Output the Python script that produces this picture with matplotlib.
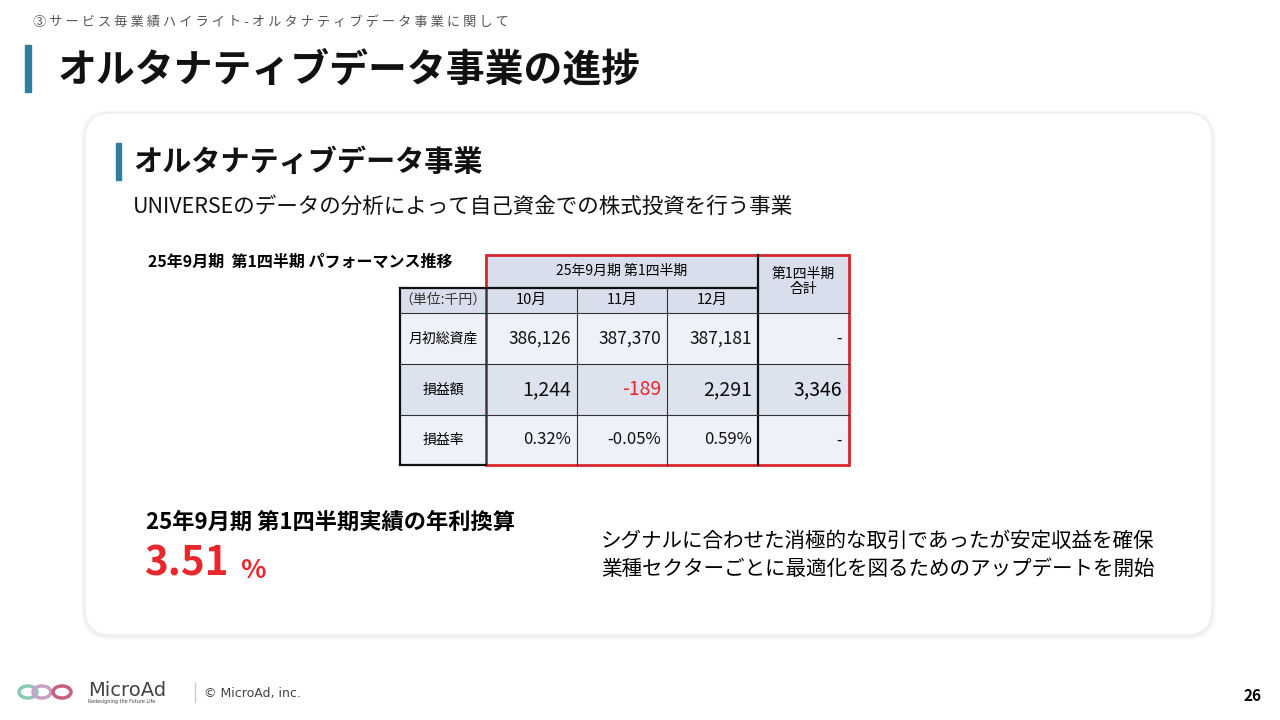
import matplotlib
matplotlib.use("Agg")
import matplotlib.pyplot as plt
from matplotlib.patches import Rectangle, FancyBboxPatch

plt.rcParams["font.family"] = "Noto Sans CJK JP"

months = ["10月", "11月", "12月"]
row_labels = ["月初総資産", "損益額", "損益率"]
assets = ["386,126", "387,370", "387,181"]
profit = ["1,244", "-189", "2,291"]
rates = ["0.32%", "-0.05%", "0.59%"]
totals = ["-", "3,346", "-"]
annual_rate = "3.51"

fig = plt.figure(figsize=(12.8, 7.2), dpi=100)
ax = fig.add_axes([0, 0, 1, 1])
ax.set_xlim(0, 1280); ax.set_ylim(720, 0); ax.axis("off")

# header
ax.text(33, 22, " ".join("③サービス毎業績ハイライト-オルタナティブデータ事業に関して"),
        fontsize=9.5, color="#555", va="center")
ax.add_patch(Rectangle((25, 45), 6, 47, color="#2e7f9e"))
ax.text(58, 70, "オルタナティブデータ事業の進捗", fontsize=28, weight="bold", va="center", color="#111")

# card with shadow
for i in range(4):
    d = 4 - i
    ax.add_patch(FancyBboxPatch((85 - d, 113 - d + 1), 1127 + 2 * d, 522 + 2 * d,
                 boxstyle="round,pad=0,rounding_size=28", fc="#000", alpha=0.015, ec="none"))
ax.add_patch(FancyBboxPatch((85, 113), 1127, 522, boxstyle="round,pad=0,rounding_size=26", fc="white", ec="#ececec", lw=0.8))

ax.add_patch(Rectangle((116, 143), 5, 37, color="#2e7f9e"))
ax.text(133, 162, "オルタナティブデータ事業", fontsize=21, weight="bold", va="center", color="#111")
ax.text(133, 207, "UNIVERSEのデータの分析によって自己資金での株式投資を行う事業", fontsize=15.5, va="center", color="#111")
ax.text(148, 262, "25年9月期  第1四半期 パフォーマンス推移", fontsize=11.5, weight="bold", va="center")

# table
xs = [400, 486, 577, 667, 758, 849]
ys = [255, 288, 313, 364, 415, 465]
hdr = "#d8deeb"; body = "#eef1f8"; dark = "#dce2ee"
ax.add_patch(Rectangle((486, 255), 363, 58, fc=hdr, ec="none"))
ax.add_patch(Rectangle((400, 288), 86, 25, fc=hdr, ec="none"))
for r in range(3):
    fc = dark if r == 1 else body
    ax.add_patch(Rectangle((400, ys[r + 2]), 449, ys[r + 3] - ys[r + 2], fc=fc, ec="none"))
lc = "#333"
for x in xs[1:4]:
    ax.plot([x, x], [288, 465], color=lc, lw=0.8)
ax.plot([758, 758], [255, 465], color="#111", lw=1.6)
ax.plot([400, 758], [288, 288], color="#111", lw=1.6)
for y in ys[2:5]:
    ax.plot([400, 849], [y, y], color=lc, lw=0.8)
ax.plot([400, 400], [288, 465], color="#111", lw=1.6)
ax.plot([400, 486], [465, 465], color="#111", lw=1.6)
ax.add_patch(Rectangle((486, 255), 363, 210, fc="none", ec="#d9262c", lw=2))

ax.text(622, 271, "25年9月期 第1四半期", fontsize=10, ha="center", va="center")
ax.text(803, 281, "第1四半期\n合計", fontsize=10, ha="center", va="center", linespacing=1.1)
ax.text(443, 300, "（単位:千円）", fontsize=10, ha="center", va="center", color="#333")
for i, m in enumerate(months):
    ax.text((xs[i + 1] + xs[i + 2]) / 2, 300, m, fontsize=10.5, ha="center", va="center")
for r, lab in enumerate(row_labels):
    ax.text(443, (ys[r + 2] + ys[r + 3]) / 2, lab, fontsize=10, ha="center", va="center")
for r, vals in enumerate([assets, profit, rates]):
    yc = (ys[r + 2] + ys[r + 3]) / 2
    for i, v in enumerate(vals):
        col = "#e8262c" if v.startswith("-") and r == 1 else "#111"
        fs = 14 if r == 1 else (12.5 if r == 0 else 12)
        ax.text(xs[i + 2] - 6, yc, v, fontsize=fs, ha="right", va="center", color=col)
    ax.text(842, yc, totals[r], fontsize=14 if r == 1 else 11, ha="right", va="center")

ax.text(146, 522, "25年9月期 第1四半期実績の年利換算", fontsize=16, weight="bold", va="center")
ax.text(144, 564, annual_rate, fontsize=29, weight="bold", color="#e8262c", va="center")
ax.text(240, 570, "%", fontsize=19, weight="bold", color="#e8262c", va="center")
ax.text(601, 541, "シグナルに合わせた消極的な取引であったが安定収益を確保", fontsize=14.8, va="center")
ax.text(601, 569, "業種セクターごとに最適化を図るためのアップデートを開始", fontsize=14.8, va="center")

# footer
ax.text(88, 690, "MicroAd", fontsize=14, color="#444", va="center", family="DejaVu Sans")
ax.text(88, 702, "Redesigning the Future Life", fontsize=3.5, color="#444", va="center", family="DejaVu Sans")
ax.plot([195, 195], [682, 702], color="#ccc", lw=1)
ax.text(204, 693, "© MicroAd, inc.", fontsize=9, color="#444", va="center", family="DejaVu Sans")
for dx, c in [(28, "#8cc8b8"), (42, "#c8a0c8"), (62, "#c86080")]:
    ax.add_patch(matplotlib.patches.Ellipse((dx, 692), 18, 12, fc="none", ec=c, lw=2.5))
ax.text(1262, 696, "26", fontsize=11, weight="bold", ha="right", va="center")

fig.savefig("out.png", dpi=100)
